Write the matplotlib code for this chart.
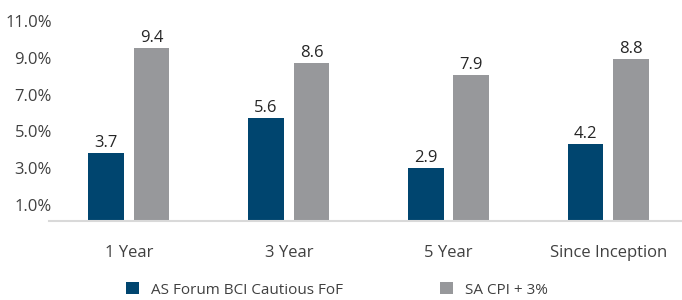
import matplotlib.pyplot as plt
import matplotlib.transforms as mtransforms
import numpy as np

categories = ['1 Year', '3 Year', '5 Year', 'Since Inception']
fund = [3.7, 5.6, 2.9, 4.2]
cpi = [9.4, 8.6, 7.9, 8.8]
yticks = [1, 3, 5, 7, 9, 11]
series_names = ['AS Forum BCI Cautious FoF', 'SA CPI + 3%']

blue = '#00456F'
grey = '#97989B'
text_col = '#404040'

plt.rcParams['font.family'] = ['Open Sans', 'DejaVu Sans']

fig = plt.figure(figsize=(6.82, 3.0), dpi=100)
ax = fig.add_axes([49.1 / 682, 79 / 300, (682 - 49.1) / 682, (221 - 18.4) / 300])

x = np.arange(len(categories))
w = 0.223
off = 0.142
b1 = ax.bar(x - off, fund, w, color=blue, label=series_names[0])
b2 = ax.bar(x + off, cpi, w, color=grey, label=series_names[1])

for bars, vals in [(b1, fund), (b2, cpi)]:
    for rect, v in zip(bars, vals):
        ax.annotate(f'{v:.1f}', (rect.get_x() + rect.get_width() / 2, v),
                    xytext=(0, 1.5), textcoords='offset points',
                    ha='center', va='bottom', fontsize=12, color='#262626')

ax.set_xlim(-0.5, 3.461)
ax.set_ylim(0, 11)
ax.set_yticks(yticks)
ax.set_yticklabels([f'{t:.1f}%' for t in yticks])
ax.set_xticks(x)
ax.set_xticklabels(categories)
ax.tick_params(axis='y', length=0, pad=-2, labelsize=12, labelcolor=text_col)
ax.tick_params(axis='x', length=0, pad=17, labelsize=12, labelcolor=text_col)

# excel draws the y labels a touch below the gridline value
shift = mtransforms.ScaledTranslation(0, -2.5 / 100, fig.dpi_scale_trans)
for lab in ax.get_yticklabels():
    lab.set_transform(lab.get_transform() + shift)

for s in ['top', 'right', 'left']:
    ax.spines[s].set_visible(False)
ax.spines['bottom'].set_color('#D9D9D9')
ax.spines['bottom'].set_linewidth(1.5)

fig.legend(handles=[b1, b2], loc='center', bbox_to_anchor=(337 / 682, 1 - 290 / 300),
           ncol=2, frameon=False, fontsize=11, handlelength=0.85, handleheight=0.85,
           handletextpad=0.8, columnspacing=6.3, labelcolor=text_col)

fig.savefig('out.png', dpi=100)
